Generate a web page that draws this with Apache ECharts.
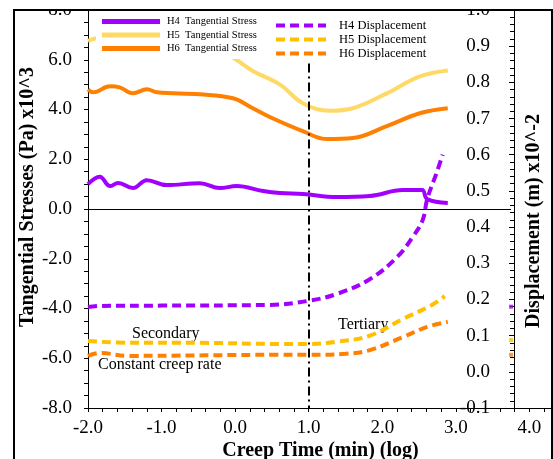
<!DOCTYPE html>
<html>
<head>
<meta charset="utf-8">
<script src="https://cdn.jsdelivr.net/npm/echarts@6/dist/echarts.min.js"></script>
<style>
  html, body { margin: 0; padding: 0; background: #fff; }
  #chart { width: 553px; height: 459px; }
</style>
</head>
<body>
<div id="chart"></div>
<script>
// values, [log time, value]
var h4Stress = [[-2.0,1.0],[-1.84,1.3],[-1.7,0.92],[-1.59,1.05],[-1.39,0.84],[-1.2,1.16],[-0.93,0.96],
	[-0.48,1.04],[-0.21,0.84],[0.02,0.92],[0.38,0.72],[0.61,0.64],[0.92,0.6],[1.38,0.48],[1.83,0.52],
	[2.28,0.76],[2.54,0.76],[2.61,0.4],[2.89,0.24]];
var h5Stress = [[-2.0,6.75],[-1.9,6.85],[-1.5,6.9],[-1.0,6.8],[-0.5,6.5],[-0.07,6.13],[0.24,5.55],
	[0.61,5.0],[0.92,4.25],[1.29,3.95],[1.6,4.05],[2.06,4.65],[2.51,5.33],[2.89,5.57]];
var h6Stress = [[-2.0,4.81],[-1.93,4.69],[-1.7,4.93],[-1.57,4.89],[-1.39,4.65],[-1.2,4.81],[-1.06,4.69],
	[-0.48,4.61],[-0.03,4.45],[0.24,4.05],[0.47,3.7],[0.92,3.13],[1.25,2.81],[1.6,2.85],[2.06,3.33],
	[2.51,3.85],[2.89,4.05]];
var h4Disp = [[-2.0,0.179],[-1.84,0.182],[-1.0,0.183],[0.47,0.185],[0.99,0.196],[1.38,0.215],
	[1.83,0.256],[2.2,0.317],[2.42,0.375],[2.55,0.42],[2.61,0.477],[2.74,0.551],[2.82,0.6]];
var h5Disp = [[-2.0,0.085],[-1.39,0.08],[-0.48,0.08],[0.61,0.077],[0.99,0.077],[1.38,0.083],
	[1.83,0.1],[2.28,0.146],[2.65,0.182],[2.85,0.209]];
var h6Disp = [[-2.0,0.044],[-1.84,0.052],[-1.45,0.044],[0.61,0.047],[0.99,0.047],[1.5,0.05],
	[1.83,0.06],[2.28,0.096],[2.61,0.124],[2.89,0.138]];
var endMarks = [[3.75,0.18],[3.75,0.088],[3.75,0.047]];
var stressNames = ['H4  Tangential Stress','H5  Tangential Stress','H6  Tangential Stress'];
var dispNames = ['H4 Displacement','H5 Displacement','H6 Displacement'];

var purple = '#A100FF', paleYellow = '#FFD966', yellow = '#FFC000', orange = '#FF8000';
var serif = 'Liberation Serif';
var dashIcon = 'path://M0,0h9v4h-9z M14,0h9v4h-9z M28,0h9v4h-9z M42,0h8v4h-8z';

function stressLine(name, data, color) {
	return {
		name: name, type: 'line', data: data, smooth: 0.4, symbol: 'none',
		yAxisIndex: 0, lineStyle: { width: 4, color: color }, itemStyle: { color: color }
	};
}
function dispLine(name, data, color) {
	return {
		name: name, type: 'line', data: data, smooth: 0.4, symbol: 'none',
		yAxisIndex: 1, lineStyle: { width: 4, color: color, type: [9, 5] }, itemStyle: { color: color }
	};
}

var tickLabel = { color: '#000', fontFamily: serif, fontSize: 19 };
var nameStyle = { fontFamily: serif, fontSize: 20, fontWeight: 'bold', color: '#000' };

var option = {
	animation: false,
	grid: { left: 88, right: 0, top: 10, bottom: 51, outerBoundsMode: 'none', containLabel: false },
	legend: [{
		data: stressNames.map(function (n) { return { name: n, icon: 'rect' }; }),
		orient: 'vertical', left: 96, top: 13,
		backgroundColor: '#fff', padding: [3, 6, 5, 6],
		itemWidth: 58, itemHeight: 5, itemGap: 2.5,
		textStyle: { fontFamily: serif, fontSize: 10.5, color: '#000', padding: [0, 0, 0, 2] }
	}, {
		data: dispNames.map(function (n) { return { name: n, icon: dashIcon }; }),
		orient: 'vertical', left: 270, top: 17,
		backgroundColor: '#fff', padding: [2, 6, 4, 6],
		itemWidth: 50, itemHeight: 5, itemGap: 1,
		textStyle: { fontFamily: serif, fontSize: 12.5, color: '#000', padding: [0, 0, 0, 8] }
	}],
	xAxis: {
		type: 'value', min: -2, max: 4.32, interval: 1,
		name: 'Creep Time (min) (log)', nameLocation: 'middle', nameGap: 33, nameMoveOverlap: false,
		nameTextStyle: nameStyle,
		axisLine: { onZero: false, lineStyle: { color: '#000', width: 1 } },
		axisTick: { inside: false, length: 4, lineStyle: { color: '#000' } },
		minorTick: { show: true, splitNumber: 5, length: 4, lineStyle: { color: '#000' } },
		axisLabel: Object.assign({ margin: 11, formatter: function (v) { return v.toFixed(1); } }, tickLabel),
		splitLine: { show: false }
	},
	yAxis: [{
		type: 'value', min: -8, max: 8, interval: 2, position: 'left',
		name: 'Tangential Stresses (Pa) x10^3', nameLocation: 'middle', nameGap: 50, nameRotate: 90,
		nameMoveOverlap: false,
		nameTextStyle: Object.assign({ padding: [0, 0, 0, 24] }, nameStyle),
		axisLine: { show: true, onZero: false, lineStyle: { color: '#000' } },
		axisTick: { show: true, length: 4, lineStyle: { color: '#000' } },
		minorTick: { show: true, splitNumber: 4, length: 4, lineStyle: { color: '#000' } },
		axisLabel: Object.assign({ margin: 16, formatter: function (v) { return v.toFixed(1); } }, tickLabel),
		splitLine: { show: false }
	}, {
		type: 'value', min: -0.1, max: 1.0, interval: 0.1, position: 'right', offset: -39,
		name: 'Displacement (m) x10^-2', nameLocation: 'middle', nameGap: 10, nameRotate: 90,
		nameMoveOverlap: false,
		nameTextStyle: Object.assign({ padding: [0, 24, 0, 0] }, nameStyle),
		axisLine: { show: true, onZero: false, lineStyle: { color: '#000' } },
		axisTick: { show: true, inside: true, length: 5, lineStyle: { color: '#000' } },
		minorTick: { show: true, splitNumber: 5, length: 4, lineStyle: { color: '#000' } },
		axisLabel: Object.assign({ inside: true, margin: 24, formatter: function (v) { return v.toFixed(1); } }, tickLabel),
		splitLine: { show: false }
	}],
	graphic: [
		{ type: 'rect', shape: { x: 0, y: 0, width: 553, height: 9 }, style: { fill: '#fff' }, z: 100 },
		{ type: 'rect', shape: { x: 14, y: 10, width: 538, height: 460 },
			style: { fill: 'none', stroke: '#000', lineWidth: 2 }, z: 101 },
		{ type: 'text', left: 132, top: 326, style: { text: 'Secondary', font: '16px "Liberation Serif"', fill: '#000' } },
		{ type: 'text', left: 98, top: 357, style: { text: 'Constant creep rate', font: '16px "Liberation Serif"', fill: '#000' } },
		{ type: 'text', left: 338, top: 317, style: { text: 'Tertiary', font: '16px "Liberation Serif"', fill: '#000' } }
	],
	series: [
		stressLine(stressNames[0], h4Stress, purple),
		stressLine(stressNames[1], h5Stress, paleYellow),
		stressLine(stressNames[2], h6Stress, orange),
		dispLine(dispNames[0], h4Disp, purple),
		dispLine(dispNames[1], h5Disp, yellow),
		dispLine(dispNames[2], h6Disp, orange),
		{
			type: 'scatter', yAxisIndex: 1, symbol: 'rect', symbolSize: 4, silent: true,
			data: endMarks,
			itemStyle: { color: function (p) { return [purple, yellow, orange][p.dataIndex]; } }
		},
		{
			type: 'line', data: [], yAxisIndex: 0, silent: true,
			markLine: {
				symbol: 'none', silent: true, label: { show: false },
				data: [
					[{ coord: [-2, 0] }, { coord: [3.75, 0] }],
					[{ coord: [1, 5.85] }, { coord: [1, -8] }]
				],
				lineStyle: { color: '#000', width: 1, type: 'solid' }
			}
		}
	]
};
// the dash-dot split line
option.series[7].markLine.data[1][0].lineStyle = { type: [9, 4, 2, 4], width: 2 };

var myChart = echarts.init(document.getElementById('chart'));
myChart.setOption(option);
</script>
</body>
</html>
